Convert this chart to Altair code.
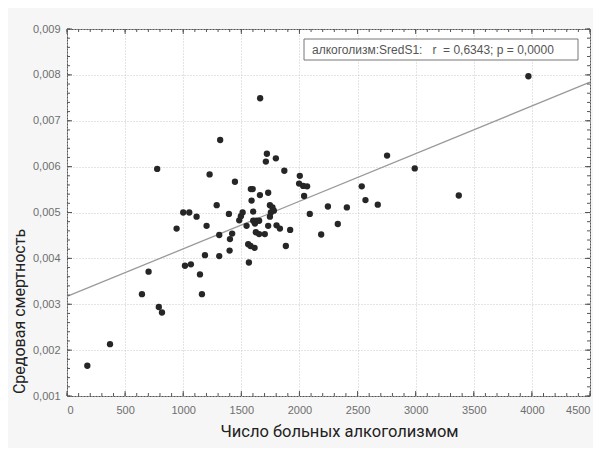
import altair as alt
import pandas as pd

# ---- data ----
x_vals = [175, 370, 645, 702, 776, 790, 817, 943, 1000, 1052,
          1015, 1066, 1115, 1144, 1161, 1187, 1201, 1227, 1288, 1310,
          1310, 1318, 1393, 1399, 1402, 1421, 1445, 1482, 1496, 1511,
          1545, 1559, 1565, 1579, 1582, 1598, 1588, 1602, 1602, 1617,
          1614, 1631, 1653, 1625, 1653, 1660, 1662, 1702, 1711, 1720,
          1731, 1731, 1746, 1768, 1754, 1780, 1746, 1797, 1803, 1832,
          1870, 1883, 1920, 2003, 1997, 2032, 2066, 2040, 2089, 2187,
          2245, 2330, 2408, 2536, 2568, 2674, 2754, 2992, 3371, 3970]
y_vals = [0.00166, 0.00213, 0.00322, 0.00371, 0.00595, 0.00294, 0.00282, 0.00465, 0.00500, 0.00500,
          0.00384, 0.00387, 0.00491, 0.00365, 0.00322, 0.00407, 0.00471, 0.00583, 0.00516, 0.00405,
          0.00451, 0.00658, 0.00497, 0.00417, 0.00442, 0.00454, 0.00567, 0.00483, 0.00492, 0.00500,
          0.00471, 0.00431, 0.00391, 0.00427, 0.00551, 0.00551, 0.00526, 0.00502, 0.00482, 0.00476,
          0.00423, 0.00482, 0.00482, 0.00457, 0.00453, 0.00538, 0.00749, 0.00453, 0.00611, 0.00628,
          0.00543, 0.00471, 0.00516, 0.00511, 0.00500, 0.00504, 0.00491, 0.00618, 0.00472, 0.00465,
          0.00591, 0.00427, 0.00462, 0.00580, 0.00563, 0.00558, 0.00557, 0.00536, 0.00497, 0.00452,
          0.00513, 0.00475, 0.00511, 0.00557, 0.00527, 0.00517, 0.00624, 0.00596, 0.00537, 0.00797]

line_x = [0, 4500]
line_y = [0.00317, 0.00784]

x_ticks = [0, 500, 1000, 1500, 2000, 2500, 3000, 3500, 4000, 4500]
y_ticks = [0.001, 0.002, 0.003, 0.004, 0.005, 0.006, 0.007, 0.008, 0.009]
x_minor = list(range(0, 4501, 100))
y_minor = [round(0.001 + i * 0.0002, 4) for i in range(41)]

x_title = "Число больных алкоголизмом"
y_title = "Средовая смертность"
legend_text = "алкоголизм:SredS1:\u00a0\u00a0\u00a0r\u00a0 = 0,6343; p = 0,0000"

# ---- chart ----
W, H = 523, 367
xs = alt.Scale(domain=[0, 4500], nice=False, zero=False)
ys = alt.Scale(domain=[0.001, 0.009], nice=False, zero=False)

pts = pd.DataFrame({"x": x_vals, "y": y_vals})
line_df = pd.DataFrame({"x": line_x, "y": line_y})
xm = pd.DataFrame({"v": x_minor})
ym = pd.DataFrame({"v": y_minor})
xM = pd.DataFrame({"v": x_ticks})
yM = pd.DataFrame({"v": y_ticks})

x_axis = alt.Axis(values=x_ticks, format="d", grid=True, gridDash=[1, 2], gridColor="#c8c8c8",
                  domain=False, ticks=False, labelPadding=8, labelFontSize=11,
                  labelColor="#6e6e6e", labelFont="Liberation Sans",
                  title=x_title, titleFont="Roboto", titleFontSize=16.5,
                  titleFontWeight="normal", titleColor="#222222",
                  titleX=272, titleY=40, titleBaseline="alphabetic")
y_axis = alt.Axis(values=y_ticks, grid=True, gridDash=[1, 2], gridColor="#c8c8c8",
                  domain=False, ticks=False, labelPadding=7, labelFontSize=11,
                  labelColor="#6e6e6e", labelFont="Liberation Sans",
                  labelExpr="replace(format(datum.value, '.3f'), '.', ',')",
                  title=y_title, titleFont="Roboto", titleFontSize=16,
                  titleFontWeight="normal", titleColor="#222222",
                  titleX=-48, titleY=282, titleBaseline="middle", titleAngle=-90)

points = alt.Chart(pts).mark_circle(size=40, color="#262626", opacity=1).encode(
    x=alt.X("x:Q", scale=xs, axis=x_axis),
    y=alt.Y("y:Q", scale=ys, axis=y_axis),
)

reg = alt.Chart(line_df).mark_line(color="#9a9a9a", strokeWidth=1.3).encode(
    x=alt.X("x:Q", scale=xs), y=alt.Y("y:Q", scale=ys))

tick_color = "#555555"
def xticks(df, ln):
    b = alt.Chart(df).mark_rule(color=tick_color, strokeWidth=1).encode(
        x=alt.X("v:Q", scale=xs), y=alt.value(H), y2=alt.value(H - ln))
    t = alt.Chart(df).mark_rule(color=tick_color, strokeWidth=1).encode(
        x=alt.X("v:Q", scale=xs), y=alt.value(0), y2=alt.value(ln))
    return [b, t]

def yticks(df, ln):
    l = alt.Chart(df).mark_rule(color=tick_color, strokeWidth=1).encode(
        y=alt.Y("v:Q", scale=ys), x=alt.value(0), x2=alt.value(ln))
    r = alt.Chart(df).mark_rule(color=tick_color, strokeWidth=1).encode(
        y=alt.Y("v:Q", scale=ys), x=alt.value(W), x2=alt.value(W - ln))
    return [l, r]

tick_layers = xticks(xm, 3) + xticks(xM, 5) + yticks(ym, 3) + yticks(yM, 5)

box = alt.Chart(pd.DataFrame({"t": [legend_text]})).mark_rect(
    fill="white", stroke="#777777", strokeWidth=1).encode(
    x=alt.value(237), x2=alt.value(511), y=alt.value(10), y2=alt.value(31))
label = alt.Chart(pd.DataFrame({"t": [legend_text]})).mark_text(
    align="left", baseline="middle", font="Liberation Sans", fontSize=12,
    color="#555555").encode(
    x=alt.value(245), y=alt.value(21), text="t:N")

chart = alt.layer(reg, points, *tick_layers, box, label).properties(
    width=W, height=H,
    background="#f6f6f6",
    padding={"left": 59, "top": 21, "right": 3, "bottom": 52},
    autosize=alt.AutoSizeParams(type="none"),
).configure_view(fill="white", stroke="#555555", strokeWidth=1)

chart.save("out.html", embed_options={"renderer": "svg", "actions": False})
